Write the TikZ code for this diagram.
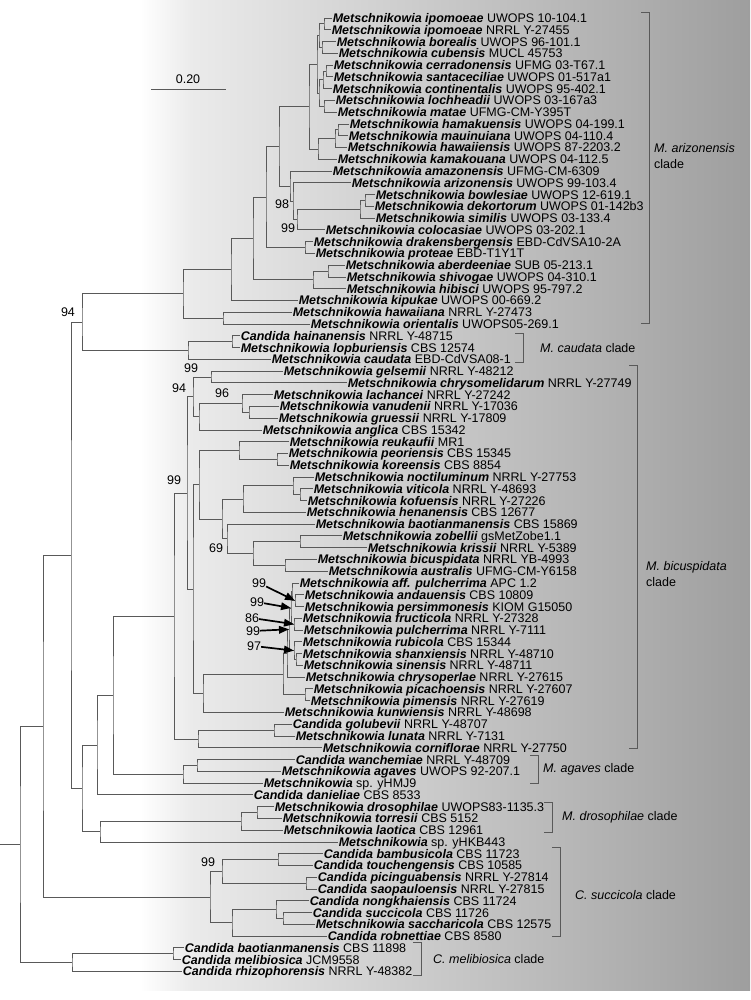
\documentclass[tikz,border=0pt]{standalone}
\usepackage{fontspec}
\setmainfont{Liberation Sans}
\usetikzlibrary{calc,arrows.meta}

\newcommand{\taxfont}{\fontsize{12.5}{16}\selectfont}
\newcommand{\taxon}[5]{\node[taxon] (#1) at (#3,{18+(#2-1)*11.77}) {\textbf{\textit{#4}} #5};}
\newcommand{\clade}[4]{%
  \path let \p1=(#3), \p2=(#4) in ({#2pt},{0.5*\y1+0.5*\y2}) coordinate (#1);
  \draw[branch] (#3) -| (#1) |- (#4);}
\newcommand{\cladebar}[4]{%
  \coordinate (#1T) at (#2,#3);
  \coordinate (#1B) at (#2,#4);
  \draw[bracket] ($(#1T)+(-8,0)$) -- (#1T) -- (#1B) -- ($(#1B)+(-8,0)$);}

\begin{document}
\begin{tikzpicture}[x=1pt, y=-1pt,
  taxon/.style={anchor=west, inner sep=0.6pt, font=\taxfont, text height=9pt, text depth=0pt},
  branch/.style={draw=black!65, line width=0.8pt},
  bracket/.style={draw=black!65, line width=0.8pt},
  boot/.style={font=\taxfont, inner sep=0pt},
  pointer/.style={-{Triangle[length=10pt,width=7.5pt]}, line width=1.7pt},
  cladename/.style={anchor=west, align=left, font=\taxfont, inner sep=0pt}]

  \useasboundingbox (0,0) rectangle (750,1000);
  \shade[left color=white, right color=black!8] (140,0) rectangle (192,990);
  \shade[left color=black!8, right color=black!38] (192,0) rectangle (750,990);

  \taxon{ipoA}{1}{332}{Metschnikowia ipomoeae}{UWOPS 10-104.1}
  \taxon{ipoB}{2}{331}{Metschnikowia ipomoeae}{NRRL Y-27455}
  \taxon{bor}{3}{336}{Metschnikowia borealis}{UWOPS 96-101.1}
  \taxon{cub}{4}{338}{Metschnikowia cubensis}{MUCL 45753}
  \taxon{cer}{5}{333}{Metschnikowia cerradonensis}{UFMG 03-T67.1}
  \taxon{san}{6}{333}{Metschnikowia santaceciliae}{UWOPS 01-517a1}
  \taxon{con}{7}{332}{Metschnikowia continentalis}{UWOPS 95-402.1}
  \taxon{loc}{8}{335}{Metschnikowia lochheadii}{UWOPS 03-167a3}
  \taxon{mat}{9}{337}{Metschnikowia matae}{UFMG-CM-Y395T}
  \taxon{ham}{10}{349}{Metschnikowia hamakuensis}{UWOPS 04-199.1}
  \taxon{mau}{11}{348}{Metschnikowia mauinuiana}{UWOPS 04-110.4}
  \taxon{haw}{12}{347}{Metschnikowia hawaiiensis}{UWOPS 87-2203.2}
  \taxon{kam}{13}{337}{Metschnikowia kamakouana}{UWOPS 04-112.5}
  \taxon{ama}{14}{332}{Metschnikowia amazonensis}{UFMG-CM-6309}
  \taxon{ari}{15}{351}{Metschnikowia arizonensis}{UWOPS 99-103.4}
  \taxon{bow}{16}{375}{Metschnikowia bowlesiae}{UWOPS 12-619.1}
  \taxon{dek}{17}{374}{Metschnikowia dekortorum}{UWOPS 01-142b3}
  \taxon{sim}{18}{375}{Metschnikowia similis}{UWOPS 03-133.4}
  \taxon{col}{19}{325}{Metschnikowia colocasiae}{UWOPS 03-202.1}
  \taxon{dra}{20}{313}{Metschnikowia drakensbergensis}{EBD-CdVSA10-2A}
  \taxon{pro}{21}{315}{Metschnikowia proteae}{EBD-T1Y1T}
  \taxon{abe}{22}{345}{Metschnikowia aberdeeniae}{SUB 05-213.1}
  \taxon{shi}{23}{346}{Metschnikowia shivogae}{UWOPS 04-310.1}
  \taxon{hib}{24}{346}{Metschnikowia hibisci}{UWOPS 95-797.2}
  \taxon{kip}{25}{298}{Metschnikowia kipukae}{UWOPS 00-669.2}
  \taxon{hwn}{26}{292}{Metschnikowia hawaiiana}{NRRL Y-27473}
  \taxon{ori}{27}{310}{Metschnikowia orientalis}{UWOPS05-269.1}
  \taxon{hai}{28}{240}{Candida hainanensis}{NRRL Y-48715}
  \taxon{lop}{29}{240}{Metschnikowia lopburiensis}{CBS 12574}
  \taxon{cau}{30}{271}{Metschnikowia caudata}{EBD-CdVSA08-1}
  \taxon{gel}{31}{283}{Metschnikowia gelsemii}{NRRL Y-48212}
  \taxon{chm}{32}{347}{Metschnikowia chrysomelidarum}{NRRL Y-27749}
  \taxon{lac}{33}{273}{Metschnikowia lachancei}{NRRL Y-27242}
  \taxon{van}{34}{279}{Metschnikowia vanudenii}{NRRL Y-17036}
  \taxon{gru}{35}{278}{Metschnikowia gruessii}{NRRL Y-17809}
  \taxon{ang}{36}{262}{Metschnikowia anglica}{CBS 15342}
  \taxon{reu}{37}{289}{Metschnikowia reukaufii}{MR1}
  \taxon{peo}{38}{288}{Metschnikowia peoriensis}{CBS 15345}
  \taxon{kor}{39}{289}{Metschnikowia koreensis}{CBS 8854}
  \taxon{noc}{40}{314}{Metschnikowia noctiluminum}{NRRL Y-27753}
  \taxon{vit}{41}{313}{Metschnikowia viticola}{NRRL Y-48693}
  \taxon{kof}{42}{307}{Metschnikowia kofuensis}{NRRL Y-27226}
  \taxon{hen}{43}{306}{Metschnikowia henanensis}{CBS 12677}
  \taxon{bao}{44}{315}{Metschnikowia baotianmanensis}{CBS 15869}
  \taxon{zob}{45}{342}{Metschnikowia zobellii}{gsMetZobe1.1}
  \taxon{kri}{46}{367}{Metschnikowia krissii}{NRRL Y-5389}
  \taxon{bic}{47}{317}{Metschnikowia bicuspidata}{NRRL YB-4993}
  \taxon{aus}{48}{328}{Metschnikowia australis}{UFMG-CM-Y6158}
  \taxon{aff}{49}{299}{Metschnikowia aff. pulcherrima}{APC 1.2}
  \taxon{and}{50}{304}{Metschnikowia andauensis}{CBS 10809}
  \taxon{per}{51}{304}{Metschnikowia persimmonesis}{KIOM G15050}
  \taxon{fru}{52}{302}{Metschnikowia fructicola}{NRRL Y-27328}
  \taxon{pul}{53}{303}{Metschnikowia pulcherrima}{NRRL Y-7111}
  \taxon{rub}{54}{302}{Metschnikowia rubicola}{CBS 15344}
  \taxon{sha}{55}{302}{Metschnikowia shanxiensis}{NRRL Y-48710}
  \taxon{sin}{56}{303}{Metschnikowia sinensis}{NRRL Y-48711}
  \taxon{chp}{57}{305}{Metschnikowia chrysoperlae}{NRRL Y-27615}
  \taxon{pic}{58}{313}{Metschnikowia picachoensis}{NRRL Y-27607}
  \taxon{pim}{59}{310}{Metschnikowia pimensis}{NRRL Y-27619}
  \taxon{kun}{60}{284}{Metschnikowia kunwiensis}{NRRL Y-48698}
  \taxon{gol}{61}{292}{Candida golubevii}{NRRL Y-48707}
  \taxon{lun}{62}{295}{Metschnikowia lunata}{NRRL Y-7131}
  \taxon{cor}{63}{322}{Metschnikowia corniflorae}{NRRL Y-27750}
  \taxon{wan}{64}{295}{Candida wanchemiae}{NRRL Y-48709}
  \taxon{aga}{65}{281}{Metschnikowia agaves}{UWOPS 92-207.1}
  \taxon{hmj}{66}{263}{Metschnikowia}{sp. yHMJ9}
  \taxon{dan}{67}{253}{Candida danieliae}{CBS 8533}
  \taxon{dro}{68}{274}{Metschnikowia drosophilae}{UWOPS83-1135.3}
  \taxon{tor}{69}{282}{Metschnikowia torresii}{CBS 5152}
  \taxon{lao}{70}{283}{Metschnikowia laotica}{CBS 12961}
  \taxon{hkb}{71}{338}{Metschnikowia}{sp. yHKB443}
  \taxon{bam}{72}{323}{Candida bambusicola}{CBS 11723}
  \taxon{tou}{73}{313}{Candida touchengensis}{CBS 10585}
  \taxon{pcg}{74}{317}{Candida picinguabensis}{NRRL Y-27814}
  \taxon{sao}{75}{317}{Candida saopauloensis}{NRRL Y-27815}
  \taxon{non}{76}{309}{Candida nongkhaiensis}{CBS 11724}
  \taxon{suc}{77}{312}{Candida succicola}{CBS 11726}
  \taxon{sac}{78}{315}{Metschnikowia saccharicola}{CBS 12575}
  \taxon{rob}{79}{327}{Candida robnettiae}{CBS 8580}
  \taxon{cba}{80}{184}{Candida baotianmanensis}{CBS 11898}
  \taxon{mel}{81}{181}{Candida melibiosica}{JCM9558}
  \taxon{rhi}{82}{182}{Candida rhizophorensis}{NRRL Y-48382}

  \clade{nIpo}{324}{ipoA}{ipoB}
  \clade{nBor}{322}{bor}{cub}
  \clade{nA1}{319}{nIpo}{nBor}
  \clade{nCer}{326}{cer}{san}
  \clade{nCon}{323}{nCer}{con}
  \clade{nLoc}{324}{loc}{mat}
  \clade{nA2}{319}{nCon}{nLoc}
  \clade{nA}{317}{nA1}{nA2}
  \clade{nHam}{338}{ham}{mau}
  \clade{nHaw}{335}{nHam}{haw}
  \clade{nKam}{318}{nHaw}{kam}
  \clade{nB}{309}{nA}{nKam}
  \clade{nBow}{365}{bow}{dek}
  \clade{nSim}{360}{nBow}{sim}
  \clade{nCol}{297}{nSim}{col}
  \clade{nAri}{293}{ari}{nCol}
  \clade{nAma}{290}{ama}{nAri}
  \clade{nC}{279}{nB}{nAma}
  \clade{nDra}{305}{dra}{pro}
  \clade{nD}{266}{nC}{nDra}
  \clade{nAbe}{328}{abe}{shi}
  \clade{nHib}{313}{nAbe}{hib}
  \clade{nE}{253}{nD}{nHib}
  \clade{nKip}{231}{nE}{kip}
  \clade{nOri}{223}{hwn}{ori}
  \clade{nG}{183}{nKip}{nOri}
  \clade{nHai}{232}{hai}{lop}
  \clade{nCau}{188}{nHai}{cau}
  \clade{nAC}{82}{nG}{nCau}
  \clade{nGel}{211}{gel}{chm}
  \clade{nVan}{249}{van}{gru}
  \clade{nLac}{242}{lac}{nVan}
  \clade{nAng}{199}{nLac}{ang}
  \clade{nGC}{193}{nGel}{nAng}
  \clade{nPeo}{277}{peo}{kor}
  \clade{nReu}{239}{reu}{nPeo}
  \clade{nVit}{300}{vit}{kof}
  \clade{nNoc}{293}{noc}{nVit}
  \clade{nHen}{243}{nNoc}{hen}
  \clade{nZob}{300}{zob}{kri}
  \clade{nBic}{285}{bic}{aus}
  \clade{nZB}{253}{nZob}{nBic}
  \clade{nBao}{227}{bao}{nZB}
  \clade{nHB}{222}{nHen}{nBao}
  \clade{nX}{199}{nReu}{nHB}
  \clade{nAnd}{295}{and}{per}
  \clade{nAff}{292}{aff}{nAnd}
  \clade{nFru}{294}{fru}{pul}
  \clade{nSha}{296}{sha}{sin}
  \clade{nRub}{294}{rub}{nSha}
  \clade{nQ2}{291}{nAff}{nFru}
  \clade{nQ3}{289}{nQ2}{nRub}
  \clade{nChp}{287}{nQ3}{chp}
  \clade{nPic}{305}{pic}{pim}
  \clade{nPP}{283}{nChp}{nPic}
  \clade{nKun}{203}{nPP}{kun}
  \clade{nY}{193}{nX}{nKun}
  \clade{nZ}{187}{nGC}{nY}
  \clade{nGol}{274}{gol}{lun}
  \clade{nCor}{198}{nGol}{cor}
  \clade{nBicC}{174}{nZ}{nCor}
  \clade{nWan}{197}{wan}{aga}
  \clade{nHmj}{183}{nWan}{hmj}
  \clade{nM}{113}{nBicC}{nHmj}
  \clade{nDan}{97}{nM}{dan}
  \clade{nDro}{257}{dro}{tor}
  \clade{nLao}{241}{nDro}{lao}
  \clade{nHkb}{100}{nLao}{hkb}
  \clade{nF}{82}{nDan}{nHkb}
  \clade{nH}{71}{nAC}{nF}
  \clade{nBam}{278}{bam}{tou}
  \clade{nPcg}{306}{pcg}{sao}
  \clade{nBT}{222}{nBam}{nPcg}
  \clade{nSuc}{283}{suc}{sac}
  \clade{nNon}{276}{non}{nSuc}
  \clade{nRob}{232}{nNon}{rob}
  \clade{nSC}{210}{nBT}{nRob}
  \clade{nI}{43}{nH}{nSC}
  \clade{nCba}{173}{cba}{mel}
  \clade{nMel}{72}{nCba}{rhi}
  \clade{nRoot}{20}{nI}{nMel}
  \coordinate (rootStem) at (nRoot -| 0,0);
  \draw[branch] (rootStem) -- (nRoot);

  \node[boot] (bs98) at (282,204) {98};
  \node[boot] (bs99a) at (288,228) {99};
  \node[boot] (bs94a) at (68,312) {94};
  \node[boot] (bs99b) at (191,368) {99};
  \node[boot] (bs94b) at (179,388) {94};
  \node[boot] (bs96) at (222,393) {96};
  \node[boot] (bs99c) at (174,480) {99};
  \node[boot] (bs69) at (216,548) {69};
  \node[boot] (bs99d) at (208,862) {99};

  \node[boot] (ar1) at (259,583) {99};
  \node[boot] (ar2) at (257,602) {99};
  \node[boot] (ar3) at (252,618) {86};
  \node[boot] (ar4) at (253,631) {99};
  \node[boot] (ar5) at (254,646) {97};
  \draw[pointer] (ar1) -- (nAnd);
  \draw[pointer] (ar2) -- (nQ2);
  \draw[pointer] (ar3) -- (nFru);
  \draw[pointer] (ar4) -- (nQ3);
  \draw[pointer] (ar5) -- (nRub);

  \coordinate (sbL) at (151,89);
  \coordinate (sbR) at (226,89);
  \draw[branch] (sbL) -- (sbR);
  \node[boot] (sbText) at (188,79) {0.20};

  \cladebar{brArz}{649}{12}{323}
  \cladebar{brCau}{523}{333}{362}
  \cladebar{brBic}{637}{365}{748}
  \cladebar{brAga}{538}{755}{783}
  \cladebar{brDro}{552}{802}{832}
  \cladebar{brSuc}{560}{847}{936}
  \cladebar{brMel}{421}{942}{975}
  \node[cladename] (lbArz) at (654,156) {\textit{M. arizonensis}\\clade};
  \node[cladename] (lbCau) at (540,348) {\textit{M. caudata} clade};
  \node[cladename] (lbBic) at (646,574) {\textit{M. bicuspidata}\\clade};
  \node[cladename] (lbAga) at (543,769) {\textit{M. agaves} clade};
  \node[cladename] (lbDro) at (562,817) {\textit{M. drosophilae} clade};
  \node[cladename] (lbSuc) at (575,895) {\textit{C. succicola} clade};
  \node[cladename] (lbMel) at (433,959) {\textit{C. melibiosica} clade};
\end{tikzpicture}
\end{document}
